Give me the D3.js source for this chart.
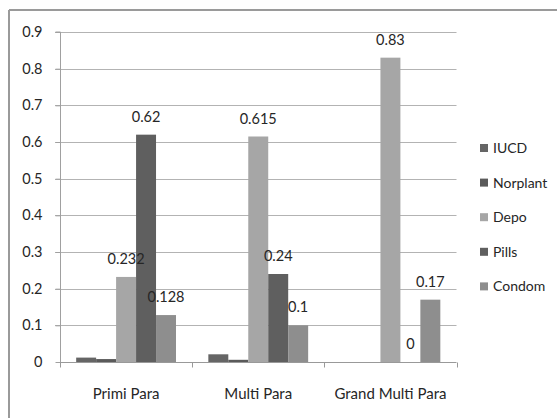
<!DOCTYPE html>
<html>
<head>
<meta charset="utf-8">
<script src="https://cdn.jsdelivr.net/npm/d3@7"></script>
<style>
  html, body { margin: 0; padding: 0; background: #fff; }
  svg { display: block; }
  text { font-family: Lato, "Open Sans", sans-serif; fill: #262626; }
</style>
</head>
<body>
<svg id="chart" width="557" height="418"></svg>
<script>
// Groups and contraceptive methods
const categories = ["Primi Para", "Multi Para", "Grand Multi Para"];
const series = ["IUCD", "Norplant", "Depo", "Pills", "Condom"];
const colors = ["#656565", "#5a5a5a", "#a6a6a6", "#5f5f5f", "#8e8e8e"];

// Proportion using each method, per group (rows follow categories)
const iucd     = [0.012, 0.021, 0];
const norplant = [0.008, 0.006, 0];
const depo     = [0.232, 0.615, 0.83];
const pills    = [0.62, 0.24, 0];
const condom   = [0.128, 0.1, 0.17];

// Which bars carry a value label, and the label text
const labelText = [
  [null, null, "0.232", "0.62", "0.128"],
  [null, null, "0.615", "0.24", "0.1"],
  [null, null, "0.83", "0", "0.17"]
];
const yTicks = [0, 0.1, 0.2, 0.3, 0.4, 0.5, 0.6, 0.7, 0.8, 0.9];

const values = [iucd, norplant, depo, pills, condom];

const svg = d3.select("#chart");
const plotLeft = 60, plotRight = 456.5, plotTop = 32, plotBottom = 362;
const fontFamily = "Lato, 'Open Sans', sans-serif";

const x = d3.scaleBand().domain(categories).range([plotLeft, plotRight]).padding(0);
const xInner = d3.scaleBand().domain(series).range([0, x.bandwidth()])
  .paddingInner(0).paddingOuter(0.81);
const y = d3.scaleLinear().domain([0, 0.9]).range([plotBottom, plotTop]);

// Frame (top and left edges)
svg.append("line").attr("x1", 9).attr("x2", 557).attr("y1", 10).attr("y2", 10)
  .attr("stroke", "#9a9a9a").attr("stroke-width", 2);
svg.append("line").attr("x1", 9).attr("x2", 9).attr("y1", 10).attr("y2", 418)
  .attr("stroke", "#9a9a9a").attr("stroke-width", 2);

// Gridlines
svg.append("g").selectAll("line").data(yTicks.filter(d => d > 0)).join("line")
  .attr("x1", plotLeft - 5).attr("x2", plotRight)
  .attr("y1", d => Math.round(y(d)) + 0.5).attr("y2", d => Math.round(y(d)) + 0.5)
  .attr("stroke", "#b3b3b3").attr("stroke-width", 1);

// Y axis
const yAxis = svg.append("g").attr("transform", `translate(${plotLeft + 0.5},0)`)
  .call(d3.axisLeft(y).tickValues(yTicks).tickSize(5).tickPadding(13)
    .tickFormat(d => d === 0 ? "0" : d3.format(".1f")(d)));
yAxis.select(".domain").attr("stroke", "#a0a0a0").attr("d", `M-5,${y(0.9)}H0V${plotBottom}`);
yAxis.selectAll(".tick line").attr("stroke", "#a0a0a0");
yAxis.selectAll(".tick text").attr("font-size", 14.5).attr("fill", "#262626")
  .style("font-family", fontFamily);

// Bars
const groups = svg.append("g").selectAll("g").data(categories).join("g")
  .attr("transform", c => `translate(${x(c)},0)`);
groups.selectAll("rect")
  .data((c, ci) => series.map((s, si) => ({ s, si, v: values[si][ci] })))
  .join("rect")
  .attr("x", d => xInner(d.s))
  .attr("width", xInner.bandwidth())
  .attr("y", d => y(d.v))
  .attr("height", d => y(0) - y(d.v))
  .attr("fill", d => colors[d.si]);

// Value labels
groups.selectAll("text.val")
  .data((c, ci) => series.map((s, si) => ({ s, si, v: values[si][ci], t: labelText[ci][si] }))
    .filter(d => d.t !== null))
  .join("text").attr("class", "val")
  .attr("x", d => xInner(d.s) + xInner.bandwidth() / 2)
  .attr("y", d => y(d.v) - 13)
  .attr("text-anchor", "middle").attr("font-size", 14.5)
  .text(d => d.t);

// X axis
const xAxis = svg.append("g").attr("transform", `translate(0,${plotBottom + 0.5})`)
  .call(d3.axisBottom(x).tickSize(0).tickPadding(26));
xAxis.select(".domain").attr("stroke", "#999").attr("d", `M${plotLeft},0H${plotRight}`);
xAxis.selectAll(".tick text").attr("font-size", 15).attr("fill", "#262626")
  .style("font-family", fontFamily);
xAxis.append("g").selectAll("line")
  .data([...categories.map(c => x(c)), plotRight])
  .join("line")
  .attr("x1", d => Math.round(d) + 0.5).attr("x2", d => Math.round(d) + 0.5)
  .attr("y1", 0).attr("y2", 5).attr("stroke", "#999");

// Legend
const legend = svg.append("g").attr("transform", "translate(480,148)");
const li = legend.selectAll("g").data(series).join("g")
  .attr("transform", (d, i) => `translate(0,${i * 34.6})`);
li.append("rect").attr("x", 0).attr("y", -4).attr("width", 8).attr("height", 8)
  .attr("fill", (d, i) => colors[i]);
li.append("text").attr("x", 13).attr("y", 5).attr("font-size", 14).text(d => d);
</script>
</body>
</html>
